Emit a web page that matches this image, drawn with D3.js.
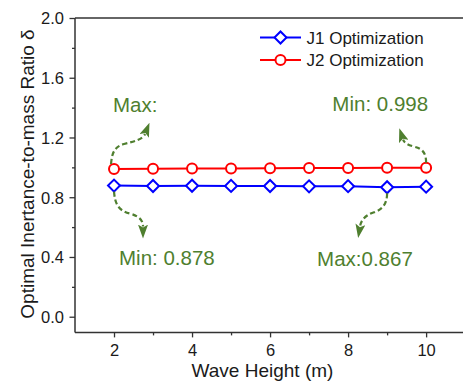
<!DOCTYPE html>
<html>
<head>
<meta charset="utf-8">
<script src="https://cdn.jsdelivr.net/npm/d3@7"></script>
<style>
  html, body { margin: 0; padding: 0; background: #fff; }
  svg { display: block; font-family: "Liberation Sans", Arial, sans-serif; }
</style>
</head>
<body>
<svg id="chart" width="463" height="383"></svg>
<script>
// Wave heights (m)
const waveHeights = [2, 3, 4, 5, 6, 7, 8, 9, 10];
// Optimal inertance-to-mass ratio for each objective
const j1Values = [0.878, 0.875, 0.877, 0.876, 0.875, 0.873, 0.874, 0.867, 0.871];
const j2Values = [0.989, 0.990, 0.992, 0.993, 0.994, 0.995, 0.996, 0.997, 0.998];
const seriesNames = ["J1 Optimization", "J2 Optimization"];
const xTicks = [1, 2, 3, 4, 5, 6, 7, 8, 9, 10];
const yTicks = [0, 0.2, 0.4, 0.6, 0.8, 1.0, 1.2, 1.4, 1.6, 1.8, 2.0];
const yLabels = [0, 0.4, 0.8, 1.2, 1.6, 2.0];
// Callout texts: [series, point index, text]
const callouts = [
  ["J2", 0, "Max:"],
  ["J2", 8, "Min: 0.998"],
  ["J1", 0, "Min: 0.878"],
  ["J1", 7, "Max:0.867"]
];

const svg = d3.select("#chart");
const x = d3.scaleLinear().domain([1, 10.92]).range([75, 462]);
const y = d3.scaleLinear().domain([-0.105, 2.0]).range([332.4, 18]);
const axisColor = "#333";
const green = "#4f7f2f";

// Frame: left and bottom axes plus top line
svg.append("line").attr("x1", 75).attr("x2", 463).attr("y1", 18).attr("y2", 18)
  .attr("stroke", axisColor).attr("stroke-width", 1.5);

const xAxis = svg.append("g").attr("transform", `translate(0,${y(-0.105)})`)
  .call(d3.axisBottom(x).tickValues(xTicks).tickSize(0).tickFormat(""));
xAxis.select(".domain").attr("stroke", axisColor).attr("stroke-width", 1.5)
  .attr("d", `M75,0H463`);
xAxis.selectAll(".tick line").attr("stroke", axisColor).attr("stroke-width", 1.3)
  .attr("y2", d => d % 2 === 0 ? 5 : 3);
xAxis.selectAll(".tick").filter(d => d % 2 === 0).append("text")
  .attr("y", 23.5).attr("fill", "#1a1a1a").attr("font-size", 16.5)
  .attr("text-anchor", "middle").text(d => d);
xAxis.selectAll(".tick").filter(d => d === 1).select("line").remove();

const yAxis = svg.append("g").attr("transform", "translate(75,0)")
  .call(d3.axisLeft(y).tickValues(yTicks).tickSize(0).tickFormat(""));
yAxis.select(".domain").attr("stroke", axisColor).attr("stroke-width", 1.5)
  .attr("d", `M0,${y(-0.105)}V18`);
const isMajor = d => yLabels.some(v => Math.abs(v - d) < 1e-9);
yAxis.selectAll(".tick line").attr("stroke", axisColor).attr("stroke-width", 1.3)
  .attr("x2", d => isMajor(d) ? -5.5 : -3);
yAxis.selectAll(".tick").filter(isMajor).append("text")
  .attr("x", -11).attr("dy", "0.35em").attr("fill", "#1a1a1a").attr("font-size", 16.5)
  .attr("text-anchor", "end").text(d => d3.format(".1f")(d));

// Axis titles
svg.append("text").attr("x", 262.5).attr("y", 376.5).attr("text-anchor", "middle")
  .attr("font-size", 19).attr("fill", "#1a1a1a").text("Wave Height (m)");
svg.append("text").attr("transform", "translate(33.5,174) rotate(-90)")
  .attr("text-anchor", "middle").attr("font-size", 19).attr("fill", "#1a1a1a")
  .text("Optimal Inertance-to-mass Ratio δ");

// Series
const line = vals => d3.line().x((d, i) => x(waveHeights[i])).y(d => y(d))(vals);
const diamond = d3.symbol().type(d3.symbolSquare).size(72);

function drawSeries(vals, color, shape) {
  const g = svg.append("g");
  g.append("path").attr("d", line(vals)).attr("fill", "none")
    .attr("stroke", color).attr("stroke-width", 2);
  vals.forEach((v, i) => addMarker(g, x(waveHeights[i]), y(v), color, shape));
}
function addMarker(g, cx, cy, color, shape) {
  if (shape === "diamond") {
    g.append("path").attr("d", diamond())
      .attr("transform", `translate(${cx},${cy}) rotate(45)`)
      .attr("fill", "#fff").attr("stroke", color).attr("stroke-width", 2);
  } else {
    g.append("circle").attr("cx", cx).attr("cy", cy).attr("r", 5)
      .attr("fill", "#fff").attr("stroke", color).attr("stroke-width", 2);
  }
}
drawSeries(j2Values, "#ff0000", "circle");
drawSeries(j1Values, "#0000ff", "diamond");

// Legend
const legend = [
  { name: seriesNames[0], color: "#0000ff", shape: "diamond", cy: 37.5 },
  { name: seriesNames[1], color: "#ff0000", shape: "circle", cy: 60 }
];
legend.forEach(l => {
  const g = svg.append("g");
  g.append("line").attr("x1", 260).attr("x2", 301).attr("y1", l.cy).attr("y2", l.cy)
    .attr("stroke", l.color).attr("stroke-width", 2);
  addMarker(g, 280.5, l.cy, l.color, l.shape);
  g.append("text").attr("x", 306.5).attr("y", l.cy + 6).attr("font-size", 17)
    .attr("fill", "#1a1a1a").text(l.name);
});

// Callout arrows: curved dashed leaders from a point to its label
const arrowShapes = {
  "J2-0": { path: "M-3,-5 C-2,-16 0,-22 10,-25 C22,-28 29,-30 31,-35", label: [-1, -57], anchor: "start" },
  "J2-8": { path: "M0,-5 C0,-14 -3,-19 -12,-21 C-19,-23 -22,-25 -23,-28", label: [2, -57], anchor: "end" },
  "J1-0": { path: "M0,6 C1,18 4,25 16,28 C26,31 29,35 29,41", label: [5, 79], anchor: "start" },
  "J1-7": { path: "M0,6 C0,16 -4,22 -13,25 C-22,28 -26,33 -27,39", label: [-70, 79], anchor: "start" }
};
const defs = svg.append("defs");
defs.append("marker").attr("id", "arrowHead").attr("viewBox", "0 0 14 10")
  .attr("refX", 2).attr("refY", 5).attr("markerWidth", 14).attr("markerHeight", 10)
  .attr("markerUnits", "userSpaceOnUse").attr("orient", "auto")
  .append("path").attr("d", "M0,0 L14,5 L0,10 L3,5 Z").attr("fill", green);

callouts.forEach(([s, i, txt]) => {
  const vals = s === "J1" ? j1Values : j2Values;
  const px = x(waveHeights[i]), py = y(vals[i]);
  const a = arrowShapes[`${s}-${i}`];
  svg.append("path").attr("transform", `translate(${px},${py})`).attr("d", a.path)
    .attr("fill", "none").attr("stroke", green).attr("stroke-width", 2.2)
    .attr("stroke-dasharray", "5,3").attr("marker-end", "url(#arrowHead)");
  svg.append("text").attr("x", px + a.label[0]).attr("y", py + a.label[1])
    .attr("text-anchor", a.anchor).attr("font-size", 20.5).attr("fill", green).text(txt);
});
</script>
</body>
</html>
